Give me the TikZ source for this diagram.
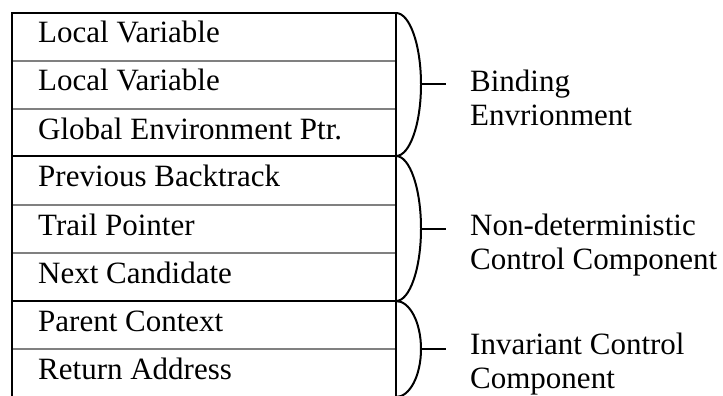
\documentclass[tikz,border=0pt]{standalone}
\usepackage{fontspec}
\setmainfont{Liberation Serif}
\begin{document}
\begin{tikzpicture}[x=1pt,y=-1pt,
  rowtext/.style={anchor=base west,inner sep=0pt,font=\fontsize{31}{33.5}\selectfont},
  lbl/.style={anchor=base west,inner sep=0pt,align=left,font=\fontsize{31}{33.5}\selectfont},
  sep/.style={draw=black!50,line width=2pt},
  frame/.style={draw=black,line width=2pt},
  brace/.style={draw=black,line width=2pt},
]
\useasboundingbox (0,0) rectangle (723,396);
% gray separators inside groups
\foreach \y in {61,109,205,253,349} \draw[sep] (12,\y) -- (396,\y);
% black group boundaries
\foreach \y in {156,301} \draw[frame] (12,\y) -- (396,\y);
\draw[frame] (12,402) -- (12,13) -- (396,13) -- (396,402);
% row texts
\node[rowtext] (r1) at (38,43) {Local Variable};
\node[rowtext] (r2) at (38,91) {Local Variable};
\node[rowtext] (r3) at (38,139) {Global Environment Ptr.};
\node[rowtext] (r4) at (38,186) {Previous Backtrack};
\node[rowtext] (r5) at (38,235) {Trail Pointer};
\node[rowtext] (r6) at (38,283) {Next Candidate};
\node[rowtext] (r7) at (38,331) {Parent Context};
\node[rowtext] (r8) at (38,379) {Return Address};
% braces
\draw[brace] (396,13) arc[start angle=-90,end angle=90,x radius=25,y radius=71.5];
\draw[brace] (396,156) arc[start angle=-90,end angle=90,x radius=25,y radius=72.5];
\draw[brace] (396,301) arc[start angle=-90,end angle=90,x radius=25,y radius=48];
\coordinate (tA) at (421,84.5);
\coordinate (tB) at (421,228.5);
\coordinate (tC) at (421,349);
\coordinate (eA) at (446,84.5);
\coordinate (eB) at (446,228.5);
\coordinate (eC) at (446,349);
\draw[brace] (tA) -- (eA);
\draw[brace] (tB) -- (eB);
\draw[brace] (tC) -- (eC);
% labels (base anchor = baseline of the last line)
\node[lbl] (lA) at (470,125) {Binding\\Envrionment};
\node[lbl] (lB) at (470,269) {Non-deterministic\\Control Component};
\node[lbl] (lC) at (470,388) {Invariant Control\\Component};
\end{tikzpicture}
\end{document}
